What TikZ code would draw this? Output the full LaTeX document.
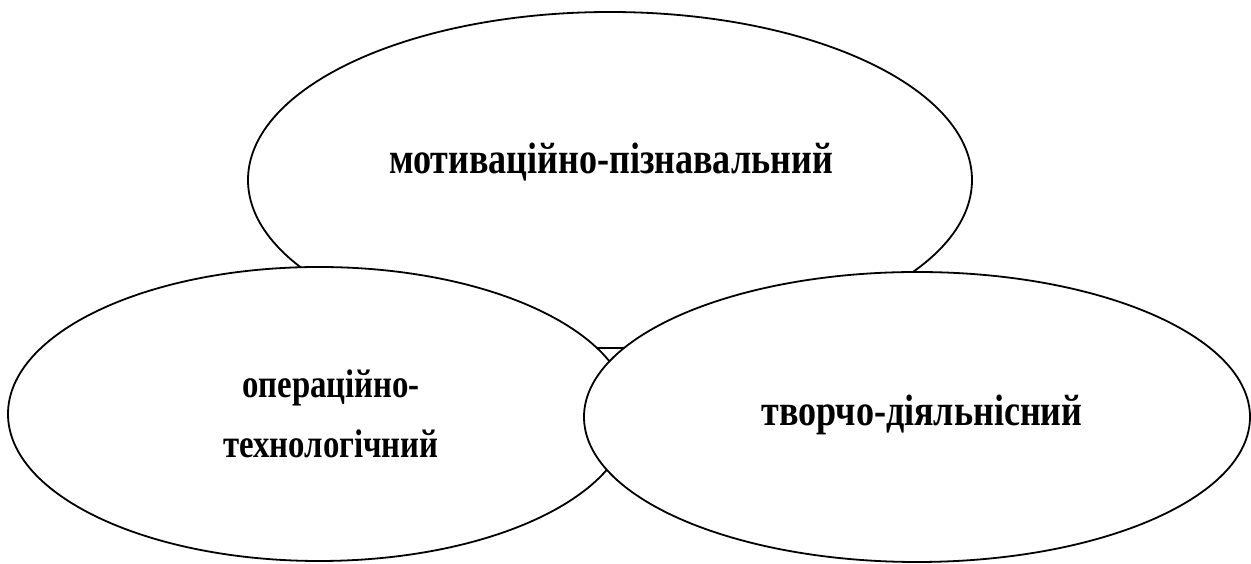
\documentclass[tikz,border=0pt]{standalone}
\usepackage{fontspec}
\setmainfont{Liberation Serif}
\newfontfamily\lab[FakeStretch=0.82]{Liberation Serif Bold}
\usetikzlibrary{shapes.geometric}
\begin{document}
\begin{tikzpicture}[x=1pt,y=1pt,
  oval/.style={ellipse,draw,fill=white,line width=1.8pt,inner sep=0pt},
  lbl/.style={font=\lab\fontsize{44}{58}\selectfont,align=center,inner sep=0pt},
  lbls/.style={font=\lab\fontsize{40}{60}\selectfont,align=center,inner sep=0pt}]
\clip (0,0) rectangle (1251,564);
\fill[white] (0,0) rectangle (1251,564);
\node[oval,minimum width=724pt,minimum height=336pt] (top) at (610,384) {};
\node[oval,minimum width=622pt,minimum height=294pt] (left) at (319,150) {};
\node[oval,minimum width=666pt,minimum height=290pt] (right) at (917,147) {};
\node[lbl] (ttop) at (611,402) {мотиваційно-пізнавальний};
\node[lbls] (tleft) at (331,150) {операційно-\\технологічний};
\node[lbl] (tright) at (922,149) {творчо-діяльнісний};
\end{tikzpicture}
\end{document}
